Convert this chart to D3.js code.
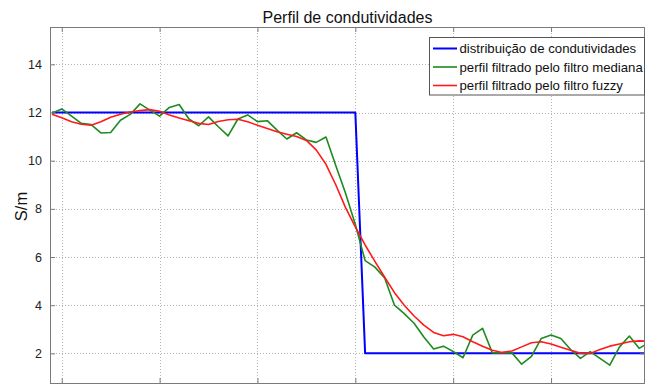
<!DOCTYPE html>
<html>
<head>
<meta charset="utf-8">
<script src="https://cdn.jsdelivr.net/npm/d3@7"></script>
<style>
  html, body { margin: 0; padding: 0; background: #fff; }
  svg { display: block; font-family: "Liberation Sans", Arial, sans-serif; }
</style>
</head>
<body>
<svg id="chart" width="653" height="385"></svg>
<script>
// Sample positions (profile index) and the three conductivity profiles (S/m)
const sampleStart = -1;
const trueProfile = [
  12,12,12,12,12,12,12,12,12,12,12,12,12,12,12,12,12,12,12,12,12,12,12,12,12,12,12,12,12,12,12,12,
  2,2,2,2,2,2,2,2,2,2,2,2,2,2,2,2,2,2,2,2,2,2,2,2,2,2,2,2,2,2
];
const medianProfile = [
  11.97, 12.15, 11.85, 11.55, 11.50, 11.15, 11.17, 11.68, 11.92, 12.36,
  12.10, 11.85, 12.21, 12.33, 11.73, 11.45, 11.82, 11.41, 11.03, 11.73,
  11.90, 11.62, 11.66, 11.27, 10.90, 11.16, 10.86, 10.76, 10.98, 9.80,
  8.65, 7.35, 5.85, 5.58, 5.13, 4.00, 3.65, 3.25, 2.68, 2.18,
  2.30, 2.08, 1.82, 2.76, 3.04, 2.02, 2.02, 2.02, 1.55, 1.88,
  2.62, 2.76, 2.62, 2.16, 1.79, 2.07, 1.79, 1.51, 2.27, 2.72,
  2.21, 2.45
];
const fuzzyProfile = [
  11.93, 11.78, 11.62, 11.51, 11.47, 11.62, 11.80, 11.93, 12.02, 12.08,
  12.12, 12.05, 11.90, 11.77, 11.66, 11.55, 11.50, 11.63, 11.70, 11.72,
  11.62, 11.47, 11.34, 11.20, 11.10, 11.00, 10.84, 10.45, 9.85, 9.00,
  8.05, 7.25, 6.50, 5.82, 5.16, 4.52, 4.00, 3.55, 3.17, 2.87,
  2.73, 2.79, 2.69, 2.48, 2.30, 2.13, 2.04, 2.10, 2.27, 2.44,
  2.48, 2.39, 2.25, 2.13, 2.00, 2.00, 2.16, 2.30, 2.39, 2.48,
  2.52, 2.50
];
const xTicks = [0, 10, 20, 30, 40, 50];
const yTicks = [2, 4, 6, 8, 10, 12, 14];
const seriesNames = [
  "distribuição de condutividades",
  "perfil filtrado pelo filtro mediana",
  "perfil filtrado pelo filtro fuzzy"
];
const seriesColors = ["#0000ff", "#1f8a1f", "#ff1a1a"];
const titleText = "Perfil de condutividades";
const yLabel = "S/m";

const svg = d3.select("#chart");
const plot = { left: 50, right: 645, top: 27, bottom: 383 };

const x = d3.scaleLinear().domain([-1.2, 59.6]).range([plot.left, plot.right]);
const y = d3.scaleLinear().domain([0.77, 15.55]).range([plot.bottom, plot.top]);

svg.append("defs").append("clipPath").attr("id", "plotClip")
  .append("rect")
  .attr("x", plot.left).attr("y", plot.top)
  .attr("width", plot.right - plot.left).attr("height", plot.bottom - plot.top);

// Dotted grid
const grid = svg.append("g").attr("stroke", "#b4b4b4").attr("stroke-width", 1)
  .attr("stroke-dasharray", "1,2");
grid.selectAll("line.gx").data(xTicks).join("line")
  .attr("x1", d => Math.round(x(d)) + 0.5).attr("x2", d => Math.round(x(d)) + 0.5)
  .attr("y1", plot.top).attr("y2", plot.bottom);
grid.selectAll("line.gy").data(yTicks).join("line")
  .attr("y1", d => Math.round(y(d)) + 0.5).attr("y2", d => Math.round(y(d)) + 0.5)
  .attr("x1", plot.left).attr("x2", plot.right);

// Profiles
const line = d3.line()
  .x((d, i) => x(sampleStart + i))
  .y(d => y(d));
const lines = svg.append("g").attr("clip-path", "url(#plotClip)").attr("fill", "none")
  .attr("stroke-linejoin", "round");
lines.append("path").datum(trueProfile).attr("d", line)
  .attr("stroke", seriesColors[0]).attr("stroke-width", 2);
lines.append("path").datum(medianProfile).attr("d", line)
  .attr("stroke", seriesColors[1]).attr("stroke-width", 1.6);
lines.append("path").datum(fuzzyProfile).attr("d", line)
  .attr("stroke", seriesColors[2]).attr("stroke-width", 1.6);

// Axes box with inward ticks
const axisColor = "#7a7a7a";
function styleAxis(g) {
  g.select(".domain").remove();
  g.selectAll(".tick line").attr("stroke", axisColor);
  g.selectAll(".tick text").attr("fill", "#222").attr("font-size", "12.5px")
    .attr("font-family", "Liberation Sans, Arial, sans-serif");
}
svg.append("g").attr("transform", `translate(${plot.left},0)`)
  .call(d3.axisLeft(y).tickValues(yTicks).tickSize(-5).tickPadding(8).tickFormat(d3.format("d")))
  .call(styleAxis);
svg.append("g").attr("transform", `translate(${plot.right},0)`)
  .call(d3.axisRight(y).tickValues(yTicks).tickSize(-5).tickFormat(""))
  .call(styleAxis);
svg.append("g").attr("transform", `translate(0,${plot.top})`)
  .call(d3.axisTop(x).tickValues(xTicks).tickSize(-5).tickFormat(""))
  .call(styleAxis);
svg.append("g").attr("transform", `translate(0,${plot.bottom})`)
  .call(d3.axisBottom(x).tickValues(xTicks).tickSize(-5).tickFormat(""))
  .call(styleAxis);
svg.append("rect")
  .attr("x", plot.left + 0.5).attr("y", plot.top + 0.5)
  .attr("width", plot.right - plot.left - 1).attr("height", plot.bottom - plot.top)
  .attr("fill", "none").attr("stroke", axisColor).attr("stroke-width", 1);

// Title and axis label
svg.append("text")
  .attr("x", (plot.left + plot.right) / 2).attr("y", 23)
  .attr("text-anchor", "middle").attr("font-size", "16px").attr("fill", "#111")
  .text(titleText);
svg.append("text")
  .attr("transform", "translate(26.5,206.5) rotate(-90)")
  .attr("text-anchor", "middle").attr("font-size", "16.5px").attr("fill", "#111")
  .text(yLabel);

// Legend
const legend = svg.append("g");
legend.append("rect")
  .attr("x", 429.5).attr("y", 37.5).attr("width", 215).attr("height", 57.5)
  .attr("fill", "#fff").attr("stroke", "#555").attr("stroke-width", 1);
const rowY = [48.5, 67, 85.5];
seriesNames.forEach((name, i) => {
  legend.append("line")
    .attr("x1", 433).attr("x2", 457).attr("y1", rowY[i]).attr("y2", rowY[i])
    .attr("stroke", seriesColors[i]).attr("stroke-width", i === 0 ? 2 : 1.6);
  legend.append("text")
    .attr("x", 459.5).attr("y", rowY[i]).attr("dy", "0.35em")
    .attr("font-size", "13.2px").attr("fill", "#111")
    .text(name);
});
</script>
</body>
</html>
